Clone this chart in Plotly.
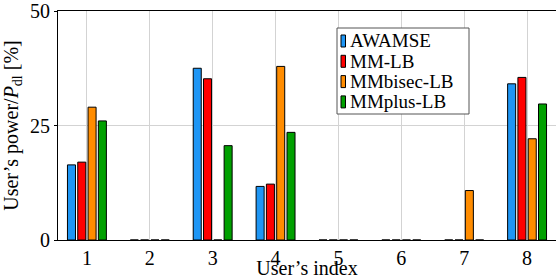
import plotly.graph_objects as go

users = [1, 2, 3, 4, 5, 6, 7, 8]
series_names = ["AWAMSE", "MM-LB", "MMbisec-LB", "MMplus-LB"]
awamse = [16.4, 0, 37.5, 11.7, 0, 0, 0, 34.1]
mm_lb = [17.0, 0, 35.2, 12.2, 0, 0, 0, 35.5]
mmbisec_lb = [29.0, 0, 0, 37.9, 0, 0, 10.8, 22.1]
mmplus_lb = [26.0, 0, 20.6, 23.5, 0, 0, 0, 29.7]
y_ticks = [0, 25, 50]

colors = ["#1E96F5", "#FF0000", "#FF8C00", "#00A000"]
series = [awamse, mm_lb, mmbisec_lb, mmplus_lb]

W, H = 556, 279
L, R, T, B = 58, 0, 11, 39
FONT = "Liberation Serif"

fig = go.Figure()
for name, vals, c in zip(series_names, series, colors):
    fig.add_trace(go.Bar(x=users, y=vals, name=name, marker_color=c,
                         marker_line_color="black", marker_line_width=1,
                         showlegend=False))

fig.update_layout(
    width=W, height=H,
    margin=dict(l=L, r=R, t=T, b=B, autoexpand=False),
    barmode="group", bargap=0.345, bargroupgap=0.22,
    plot_bgcolor="white", paper_bgcolor="white",
    font=dict(family=FONT, size=20, color="black"),
)
fig.update_xaxes(range=[0.54, 8.46], tickvals=users, showgrid=True,
                 gridcolor="#d3d3d3", gridwidth=1, showline=True,
                 linecolor="black", linewidth=1, mirror=True, ticks="",
                 zeroline=False, automargin=False,
                 tickfont=dict(family=FONT, size=20),
                 title=dict(text="User\u2019s index", standoff=0,
                            font=dict(family=FONT, size=20)))
fig.update_yaxes(range=[0, 50], tickvals=y_ticks, showgrid=True,
                 gridcolor="#d3d3d3", gridwidth=1, showline=True,
                 linecolor="black", linewidth=1, mirror=False,
                 ticks="outside", ticklen=3, tickcolor="black",
                 zeroline=False, automargin=False,
                 tickfont=dict(family=FONT, size=20),
                 title=dict(text="User\u2019s power/<i>P</i><sub>dl</sub> [%]",
                            standoff=6, font=dict(family=FONT, size=20)))

# custom legend (pixel layout converted to paper coords)
pw, ph = W - L - R, H - T - B
def px(p): return (p - L) / pw
def py(p): return (T + ph - p) / ph

fig.add_shape(type="rect", xref="paper", yref="paper",
              x0=px(337), x1=px(469), y0=py(114), y1=py(28),
              line=dict(color="#555555", width=1), fillcolor="white",
              layer="above")
for i, (name, c) in enumerate(zip(series_names, colors)):
    yc = 41 + i * 20.3
    fig.add_shape(type="rect", xref="paper", yref="paper",
                  x0=px(341), x1=px(345.5), y0=py(yc + 6), y1=py(yc - 6),
                  line=dict(color="black", width=1), fillcolor=c,
                  layer="above")
    fig.add_annotation(xref="paper", yref="paper", x=px(347.5), y=py(yc),
                       text=name, showarrow=False, xanchor="left",
                       yanchor="middle", font=dict(family=FONT, size=19))

fig.write_html("out.html", config={"displayModeBar": False},
               post_script="document.body.style.margin='0';"
                           "document.body.style.overflow='hidden';")
